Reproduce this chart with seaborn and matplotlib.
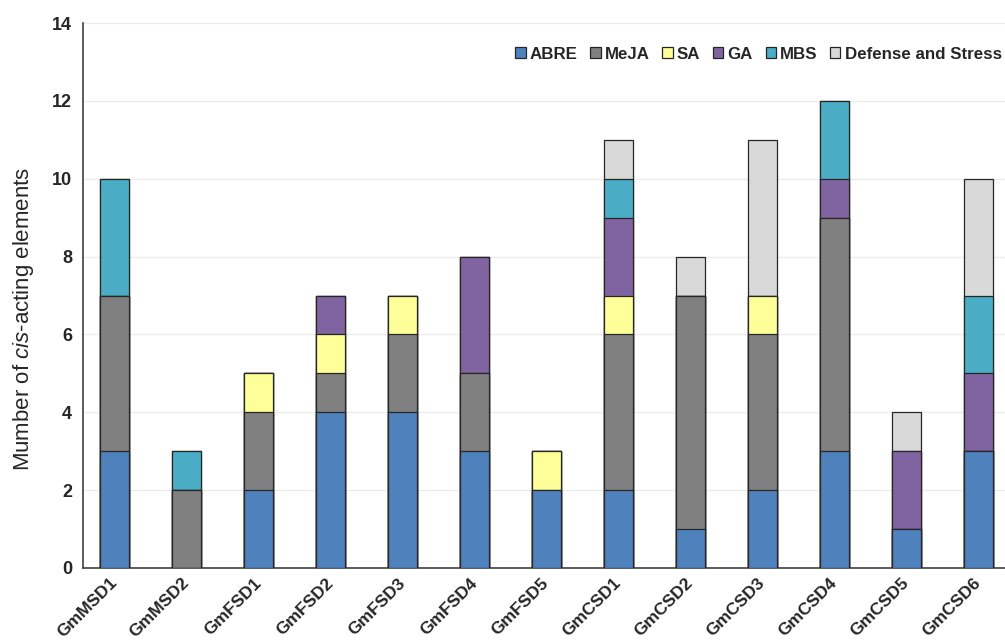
import matplotlib
matplotlib.use("Agg")
import matplotlib.pyplot as plt
import seaborn as sns
import numpy as np
import pandas as pd
from matplotlib.patches import Patch

genes = ["GmMSD1", "GmMSD2", "GmFSD1", "GmFSD2", "GmFSD3", "GmFSD4", "GmFSD5",
         "GmCSD1", "GmCSD2", "GmCSD3", "GmCSD4", "GmCSD5", "GmCSD6"]
elements = ["ABRE", "MeJA", "SA", "GA", "MBS", "Defense and Stress"]
abre    = [3, 0, 2, 4, 4, 3, 2, 2, 1, 2, 3, 1, 3]
meja    = [4, 2, 2, 1, 2, 2, 0, 4, 6, 4, 6, 0, 0]
sa      = [0, 0, 1, 1, 1, 0, 1, 1, 0, 1, 0, 0, 0]
ga      = [0, 0, 0, 1, 0, 3, 0, 2, 0, 0, 1, 2, 2]
mbs     = [3, 1, 0, 0, 0, 0, 0, 1, 0, 0, 2, 0, 2]
defense = [0, 0, 0, 0, 0, 0, 0, 1, 1, 4, 0, 1, 3]
colors = ["#4F81BD", "#808080", "#FFFF99", "#8064A2", "#4BACC6", "#D9D9D9"]
yticks = [0, 2, 4, 6, 8, 10, 12, 14]

sns.set_style("white")
plt.rcParams['font.family'] = ['Liberation Sans', 'DejaVu Sans']
plt.rcParams['mathtext.fontset'] = 'custom'
plt.rcParams['mathtext.rm'] = 'Liberation Sans'
plt.rcParams['mathtext.it'] = 'Liberation Sans:italic'

series = [abre, meja, sa, ga, mbs, defense]
df = pd.DataFrame({e: s for e, s in zip(elements, series)}, index=genes)
cum = df.cumsum(axis=1)

fig = plt.figure(figsize=(10.05, 6.4), dpi=100)
ax = fig.add_axes([83 / 1005, 72 / 640, 1 - 83 / 1005, (568 - 23) / 640])

for e, c in zip(reversed(elements), reversed(colors)):
    d = pd.DataFrame({"gene": genes, "val": cum[e].values})
    sns.barplot(data=d, x="gene", y="val", color=c, width=0.4,
                edgecolor="#262626", linewidth=0.9, saturation=1, ax=ax, zorder=3)

ax.set_xlim(-0.44, 12.37)
ax.set_ylim(0, 14)
ax.set_yticks(yticks)
ax.set_yticklabels([str(t) for t in yticks], fontsize=13, fontweight="bold")
ax.yaxis.grid(True, color="#EBEBEB", linewidth=0.9, zorder=0)
ax.set_axisbelow(True)
for s in ["top", "right"]:
    ax.spines[s].set_visible(False)
for s in ["left", "bottom"]:
    ax.spines[s].set_color("#404040")
    ax.spines[s].set_linewidth(1.2)
ax.tick_params(axis="y", direction="in", length=5, color="#404040", pad=8)
ax.tick_params(axis="x", which="major", length=0, pad=9)
ax.set_xticks(np.arange(0.5, 12.5, 1), minor=True)
ax.tick_params(axis="x", which="minor", direction="in", length=4, color="#404040")
ax.set_xticks(range(len(genes)))
ax.set_xticklabels(genes, rotation=45, ha="right", va="center",
                   rotation_mode="anchor", fontsize=12.5, fontweight="bold")
ax.set_xlabel("")
ax.set_ylabel("Mumber of $\\it{cis}$-acting elements", fontsize=16)
ax.yaxis.set_label_coords(-0.051, 0.457)

handles = [Patch(facecolor=c, edgecolor="#262626", linewidth=0.9, label=e)
           for e, c in zip(elements, colors)]
ax.legend(handles=handles, ncol=6, loc="center right", bbox_to_anchor=(1.013, 0.943),
          frameon=False, handlelength=0.6, handleheight=0.6, handletextpad=0.25,
          columnspacing=0.75, prop={"weight": "bold", "size": 12.2})

fig.savefig("out.png", dpi=100)
